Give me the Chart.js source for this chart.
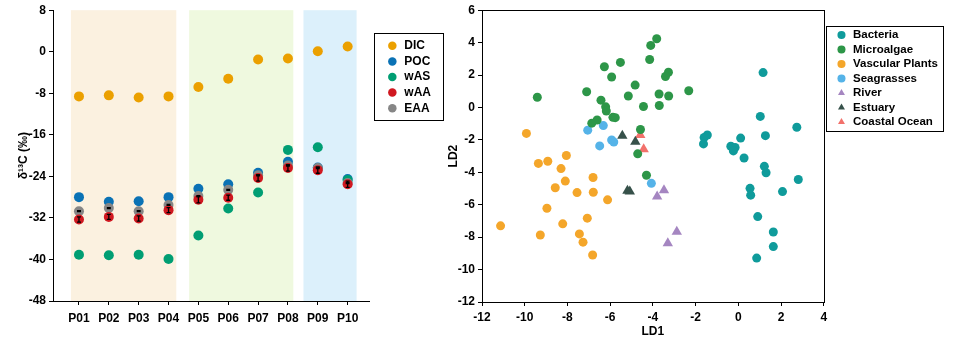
<!DOCTYPE html>
<html>
<head>
<meta charset="utf-8">
<script src="https://cdn.jsdelivr.net/npm/chart.js@4.4.0/dist/chart.umd.min.js"></script>
<style>
body { margin: 0; background: #fff; }
#wrap { position: relative; width: 964px; height: 339px; }
#left { position: absolute; left: 0; top: 0; }
#right { position: absolute; left: 440px; top: 0; }
</style>
</head>
<body>
<div id="wrap">
  <canvas id="left" width="450" height="339"></canvas>
  <canvas id="right" width="524" height="339"></canvas>
</div>
<script>
// left panel: d13C per station
const stations = ['P01', 'P02', 'P03', 'P04', 'P05', 'P06', 'P07', 'P08', 'P09', 'P10'];
const dic = [-8.6, -8.4, -8.8, -8.6, -6.8, -5.2, -1.5, -1.3, 0.1, 1.0];
const poc = [-28.0, -28.9, -28.8, -28.0, -26.4, -25.5, -23.3, -21.2, -22.3, -24.5];
const was = [-39.1, -39.2, -39.1, -39.9, -35.4, -30.2, -27.1, -18.9, -18.4, -24.7];
const waa = [-32.3, -31.8, -32.1, -30.5, -28.5, -28.1, -24.3, -22.4, -22.8, -25.5];
const eaa = [-30.7, -30.1, -30.7, -29.5, -27.8, -26.6, -23.8, -21.9, -22.4, -25.3];
const waaErr = [0.5, 0.5, 0.5, 0.5, 0.6, 0.5, 0.6, 0.6, 0.6, 0.6];
const eaaErr = [0.1, 0.1, 0.1, 0.1, 0.1, 0.1, 0.1, 0.1, 0.1, 0.1];
const yTicksLeft = [8, 0, -8, -16, -24, -32, -40, -48];

// shaded station groups (in station units)
const bandFrom = [0.73, 4.69, 8.52];
const bandTo = [4.26, 8.18, 10.3];
const bandColors = ['#fbf1e0', '#eff9df', '#dcf0fb'];

// right panel: LDA scores
const bacteriaX = [1.16, 1.03, 2.74, 1.27, 0.11, -1.45, -1.60, -1.63, -0.35, -0.15, -0.23, 0.27, 1.22, 1.30, 2.81, 0.55, 0.58, 2.07, 0.91, 1.64, 1.64, 0.86];
const bacteriaY = [2.15, -0.55, -1.22, -1.74, -1.89, -1.70, -1.85, -2.25, -2.39, -2.47, -2.68, -3.12, -3.63, -4.03, -4.44, -4.99, -5.41, -5.19, -6.73, -7.68, -8.58, -9.29];
const algaeX = [-3.82, -4.10, -4.15, -5.52, -6.27, -5.93, -3.27, -3.41, -4.83, -2.32, -7.10, -9.41, -5.15, -3.71, -3.26, -6.43, -4.44, -3.70, -6.21, -6.18, -5.87, -5.76, -6.61, -6.86, -4.58, -4.71, -4.30];
const algaeY = [4.24, 3.83, 2.96, 2.78, 2.51, 1.88, 2.17, 1.91, 1.38, 1.03, 0.97, 0.63, 0.71, 0.83, 0.71, 0.45, 0.06, 0.12, 0.04, -0.22, -0.61, -0.63, -0.77, -0.97, -1.36, -2.86, -4.18];
const plantsX = [-9.92, -8.05, -9.36, -8.92, -8.30, -6.80, -8.10, -8.57, -7.55, -6.79, -6.12, -8.96, -7.07, -8.22, -11.13, -9.27, -7.44, -7.27, -6.82];
const plantsY = [-1.60, -2.96, -3.45, -3.32, -3.77, -4.32, -4.54, -4.95, -5.25, -5.23, -5.70, -6.22, -6.83, -7.18, -7.30, -7.87, -7.80, -8.31, -9.10];
const seagrassX = [-7.05, -6.32, -5.93, -5.83, -6.49, -4.07];
const seagrassY = [-1.40, -1.12, -2.01, -2.13, -2.37, -4.68];
const riverX = [-3.48, -3.80, -2.88, -3.30];
const riverY = [-5.11, -5.49, -7.66, -8.37];
const estuaryX = [-5.43, -4.82, -5.19, -5.08];
const estuaryY = [-1.74, -2.11, -5.13, -5.19];
const coastalX = [-4.59, -4.43];
const coastalY = [-1.70, -2.57];

const tickFont = { family: 'Liberation Sans', size: 12, weight: 'bold' };
const leftLegendFont = { family: 'Liberation Sans', size: 12, weight: 'bold' };
const rightLegendFont = { family: 'Liberation Sans', size: 11.5, weight: 'bold' };

function pts(xs, ys) {
  return xs.map((x, i) => ({ x: x, y: ys[i] }));
}
function stationPts(vals) {
  return vals.map((v, i) => ({ x: i + 1, y: v }));
}

// draws a box round the legend
const legendBox = {
  id: 'legendBox',
  afterDraw(chart, args, opts) {
    const boxes = chart.legend.legendHitBoxes;
    if (!boxes.length) return;
    let l = Infinity, t = Infinity, r = -Infinity, b = -Infinity;
    boxes.forEach(h => {
      l = Math.min(l, h.left); t = Math.min(t, h.top);
      r = Math.max(r, h.left + h.width); b = Math.max(b, h.top + h.height);
    });
    const ctx = chart.ctx;
    ctx.save();
    ctx.strokeStyle = '#000';
    ctx.lineWidth = 1;
    ctx.strokeRect(Math.round(l - opts.padL) + 0.5, Math.round(t - opts.padT) + 0.5,
      Math.round(r - l + opts.padL + opts.padR), Math.round(b - t + opts.padT + opts.padB));
    ctx.restore();
  }
};

const bands = {
  id: 'bands',
  beforeDatasetsDraw(chart) {
    const xs = chart.scales.x, area = chart.chartArea, ctx = chart.ctx;
    ctx.save();
    bandFrom.forEach((f, i) => {
      const x0 = xs.getPixelForValue(f), x1 = xs.getPixelForValue(bandTo[i]);
      ctx.fillStyle = bandColors[i];
      ctx.fillRect(x0, area.top, x1 - x0, area.bottom - area.top);
    });
    ctx.restore();
  }
};

const errorBars = {
  id: 'errorBars',
  afterDatasetsDraw(chart) {
    const ys = chart.scales.y, ctx = chart.ctx;
    ctx.save();
    ctx.strokeStyle = '#000';
    ctx.lineWidth = 1.3;
    chart.data.datasets.forEach((ds, di) => {
      if (!ds.err) return;
      const meta = chart.getDatasetMeta(di);
      meta.data.forEach((p, i) => {
        const v = ds.data[i].y;
        const yt = ys.getPixelForValue(v + ds.err[i]), yb = ys.getPixelForValue(v - ds.err[i]);
        ctx.beginPath();
        ctx.moveTo(p.x, yt); ctx.lineTo(p.x, yb);
        ctx.moveTo(p.x - 2, yt); ctx.lineTo(p.x + 2, yt);
        ctx.moveTo(p.x - 2, yb); ctx.lineTo(p.x + 2, yb);
        ctx.stroke();
      });
    });
    ctx.restore();
  }
};

const frame = {
  id: 'frame',
  afterDraw(chart) {
    const a = chart.chartArea, ctx = chart.ctx;
    ctx.save();
    ctx.strokeStyle = '#000';
    ctx.lineWidth = 1;
    ctx.strokeRect(Math.round(a.left) + 0.5, Math.round(a.top) + 0.5, Math.round(a.right - a.left), Math.round(a.bottom - a.top));
    ctx.restore();
  }
};

function dot(label, data, color, extra) {
  return Object.assign({
    label: label,
    data: data,
    backgroundColor: color,
    borderColor: color,
    borderWidth: 0,
    pointRadius: 5,
    pointStyle: 'circle'
  }, extra || {});
}

// empty axis that only keeps a gap between the plot and the legend
function gapAxis(w) {
  return {
    type: 'linear',
    position: 'right',
    afterFit: s => { s.width = w; },
    ticks: { display: false },
    grid: { display: false },
    border: { display: false }
  };
}

const byIndex = (a, b) => a.datasetIndex - b.datasetIndex;

new Chart(document.getElementById('left'), {
  type: 'scatter',
  data: {
    datasets: [
      dot('DIC', stationPts(dic), '#eba000', { order: 4 }),
      dot('POC', stationPts(poc), '#0a72b5', { order: 3 }),
      dot('wAS', stationPts(was), '#009e73', { order: 2 }),
      dot('wAA', stationPts(waa), '#d01820', { order: 0, err: waaErr }),
      dot('EAA', stationPts(eaa), '#868686', { order: 1, err: eaaErr })
    ]
  },
  options: {
    responsive: false,
    devicePixelRatio: 1,
    animation: false,
    layout: { padding: { top: 7, right: 9, left: 0, bottom: 0 } },
    plugins: {
      legend: {
        position: 'right',
        align: 'start',
        maxWidth: 120,
        title: { display: true, text: '', font: { size: 1 }, padding: { top: 28, bottom: 0 } },
        labels: { usePointStyle: true, boxWidth: 12, boxHeight: 6, font: leftLegendFont, color: '#000', padding: 3.6, sort: byIndex }
      },
      tooltip: { enabled: false },
      legendBox: { padL: 12, padR: 12, padT: 7, padB: 6 }
    },
    scales: {
      x: {
        type: 'linear',
        min: 0.13,
        max: 10.74,
        afterBuildTicks: s => { s.ticks = stations.map((n, i) => ({ value: i + 1 })); },
        afterFit: s => { s.height = 38; },
        ticks: { font: tickFont, color: '#000', padding: 6, callback: v => stations[v - 1] },
        grid: { display: true, drawOnChartArea: false, tickLength: 4, color: '#000' },
        border: { display: true, color: '#000' }
      },
      y: {
        min: -48,
        max: 8,
        afterBuildTicks: s => { s.ticks = yTicksLeft.map(v => ({ value: v })); },
        afterFit: s => { s.width = 53; },
        ticks: { font: tickFont, color: '#000', padding: 3 },
        grid: { display: true, drawOnChartArea: false, tickLength: 4, color: '#000' },
        border: { display: true, color: '#000' },
        title: { display: true, text: 'δ¹³C (‰)', font: tickFont, color: '#000', padding: { top: 16, bottom: 0 } }
      },
      gap: gapAxis(13)
    }
  },
  plugins: [bands, errorBars, legendBox]
});

function tri(label, data, color) {
  return dot(label, data, color, { pointStyle: 'triangle', pointRadius: 6 });
}

new Chart(document.getElementById('right'), {
  type: 'scatter',
  data: {
    datasets: [
      dot('Bacteria', pts(bacteriaX, bacteriaY), '#0f9b9b', { pointRadius: 4.5 }),
      dot('Microalgae', pts(algaeX, algaeY), '#2d9648', { pointRadius: 4.5 }),
      dot('Vascular Plants', pts(plantsX, plantsY), '#f4a62a', { pointRadius: 4.5 }),
      dot('Seagrasses', pts(seagrassX, seagrassY), '#55b3e8', { pointRadius: 4.5 }),
      tri('River', pts(riverX, riverY), '#a586c1'),
      tri('Estuary', pts(estuaryX, estuaryY), '#36514a'),
      tri('Coastal Ocean', pts(coastalX, coastalY), '#f2716b')
    ]
  },
  options: {
    responsive: false,
    devicePixelRatio: 1,
    animation: false,
    layout: { padding: { top: 6, right: 16, left: 0, bottom: 0 } },
    plugins: {
      legend: {
        position: 'right',
        align: 'start',
        maxWidth: 160,
        title: { display: true, text: '', font: { size: 1 }, padding: { top: 19, bottom: 0 } },
        labels: { usePointStyle: true, boxWidth: 11.5, boxHeight: 5.7, font: rightLegendFont, color: '#000', padding: 3 }
      },
      tooltip: { enabled: false },
      legendBox: { padL: 10, padR: 5, padT: 3, padB: 3 }
    },
    scales: {
      x: {
        min: -12,
        max: 4,
        ticks: { stepSize: 2, font: tickFont, color: '#000', padding: 4 },
        afterFit: s => { s.height = 37; },
        grid: { display: true, drawOnChartArea: false, tickLength: 4, color: '#000' },
        border: { display: true, color: '#000' },
        title: { display: true, text: 'LD1', font: tickFont, color: '#000', padding: { top: 0, bottom: 0 } }
      },
      y: {
        min: -12,
        max: 6,
        ticks: { stepSize: 2, font: tickFont, color: '#000', padding: 3 },
        afterFit: s => { s.width = 42; },
        grid: { display: true, drawOnChartArea: false, tickLength: 4, color: '#000' },
        border: { display: true, color: '#000' },
        title: { display: true, text: 'LD2', font: tickFont, color: '#000', padding: { top: 6, bottom: 0 } }
      },
      gap: gapAxis(9)
    }
  },
  plugins: [frame, legendBox]
});
</script>
</body>
</html>
